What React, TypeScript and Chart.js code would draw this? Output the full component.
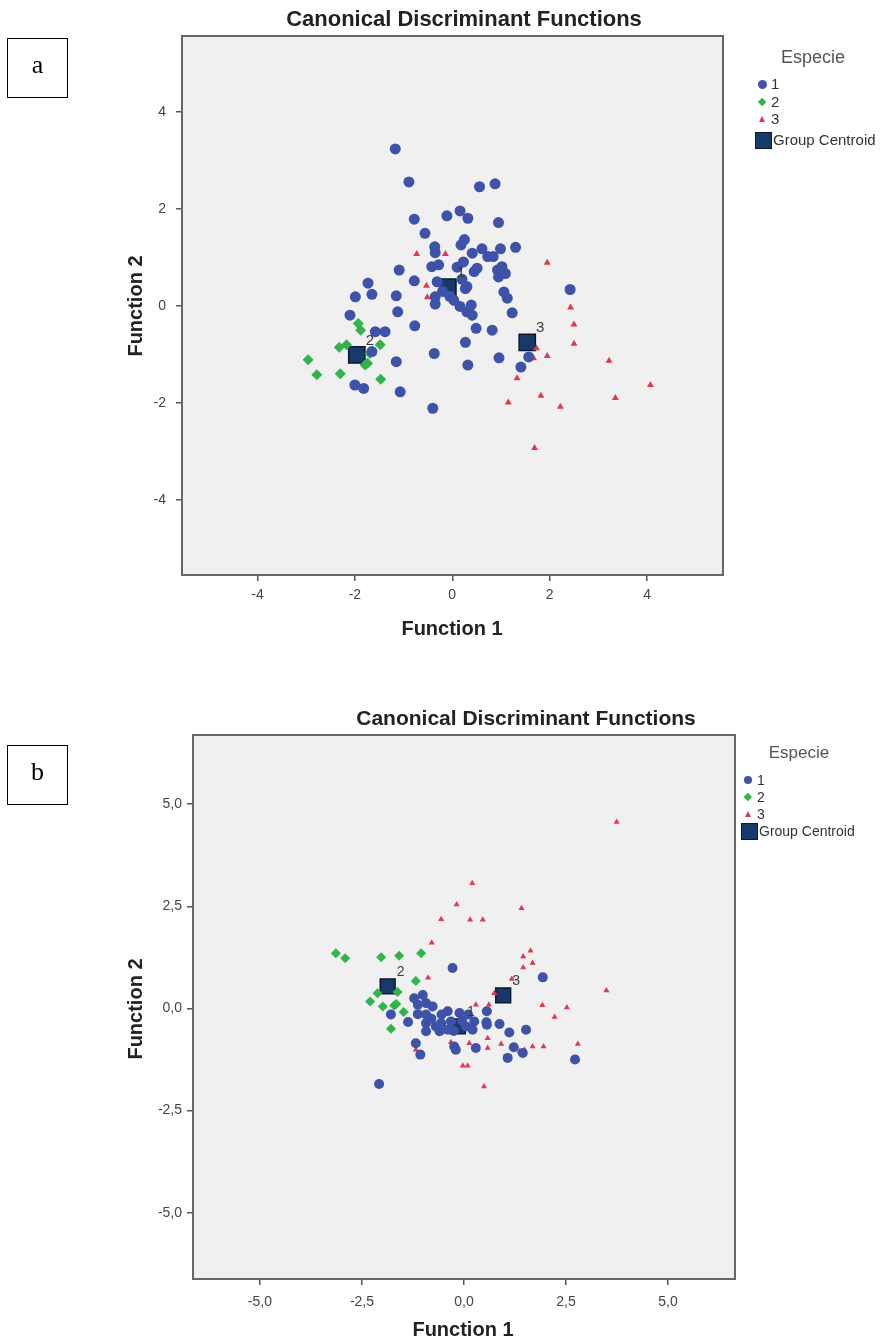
import React, { useEffect, useRef } from 'react';
import { Chart, registerables } from 'chart.js';

Chart.register(...registerables);

// panel a: (Function 1, Function 2) pairs per species
const aSpecie1 = [
  [-1.17, 3.24], [-0.89, 2.56], [0.56, 2.46], [0.88, 2.52], [-0.78, 1.79], [-0.11, 1.86],
  [0.16, 1.96], [0.32, 1.81], [0.95, 1.72], [-0.56, 1.5], [-0.36, 1.22], [-0.35, 1.1],
  [0.25, 1.37], [0.18, 1.26], [0.41, 1.09], [0.61, 1.18], [0.73, 1.02], [0.84, 1.02],
  [0.99, 1.18], [1.3, 1.21], [-0.42, 0.81], [-0.28, 0.85], [-1.09, 0.74], [-0.78, 0.52],
  [0.1, 0.8], [0.23, 0.91], [0.45, 0.71], [0.51, 0.78], [0.93, 0.74], [1.02, 0.81],
  [1.09, 0.67], [0.95, 0.6], [0.27, 0.36], [0.3, 0.4], [1.06, 0.29], [1.13, 0.16],
  [1.23, -0.14], [-0.35, 0.04], [-0.35, 0.19], [-0.31, 0.5], [-0.2, 0.3], [-0.05, 0.2],
  [0.03, 0.12], [0.16, -0.01], [0.3, -0.12], [0.41, -0.19], [0.39, 0.02], [0.2, 0.55],
  [-1.73, 0.47], [-1.99, 0.19], [-1.65, 0.24], [-1.15, 0.21], [-1.12, -0.12], [-2.1, -0.19],
  [-0.77, -0.41], [0.82, -0.5], [0.49, -0.46], [-1.58, -0.53], [-1.38, -0.53], [-1.65, -0.94],
  [-1.15, -1.15], [-2.0, -1.63], [-1.82, -1.7], [-1.07, -1.77], [-0.4, -2.11], [-0.37, -0.98],
  [0.27, -0.75], [0.32, -1.22], [0.96, -1.07], [1.41, -1.26], [1.57, -1.05], [2.42, 0.34],
];
const aSpecie2 = [
  [-1.93, -0.36], [-2.17, -0.8], [-2.32, -0.85], [-2.96, -1.11], [-2.78, -1.42], [-2.3, -1.4],
  [-1.79, -1.22], [-1.74, -1.18], [-1.69, -0.98], [-1.48, -0.8], [-1.47, -1.51], [-1.88, -0.5],
];
const aSpecie3 = [
  [-0.73, 1.07], [-0.14, 1.07], [-0.53, 0.42], [-0.51, 0.18], [1.95, 0.89], [0.49, -0.46],
  [2.43, -0.03], [2.5, -0.38], [2.5, -0.78], [1.73, -0.87], [1.67, -1.08], [1.95, -1.03],
  [1.33, -1.49], [3.22, -1.13], [4.07, -1.63], [3.35, -1.9], [1.15, -1.99], [1.82, -1.85],
  [2.22, -2.08], [1.69, -2.93],
];
const aCentroids = [[-0.09, 0.39], [-1.96, -1.01], [1.54, -0.75]];
const aTicks = [-4, -2, 0, 2, 4];

// panel b
const bSpecie1 = [
  [-0.28, 0.99], [1.93, 0.76], [2.72, -1.25], [-2.08, -1.85], [-1.22, 0.25], [-1.01, 0.33],
  [-0.93, 0.13], [-0.77, 0.05], [-1.13, 0.09], [-1.79, -0.15], [-1.37, -0.33], [-1.13, -0.14],
  [-0.93, -0.15], [-0.93, -0.36], [-0.93, -0.56], [-0.69, -0.44], [-0.56, -0.36], [-0.6, -0.56],
  [-0.4, -0.07], [-0.11, -0.11], [-0.32, -0.32], [-0.4, -0.52], [0.05, -0.44], [0.25, -0.32],
  [0.21, -0.52], [0.56, -0.07], [0.56, -0.4], [0.87, -0.38], [1.11, -0.59], [1.52, -0.52],
  [-1.18, -0.85], [-1.07, -1.13], [-0.24, -0.93], [-0.2, -1.01], [0.29, -0.97], [1.07, -1.21],
  [1.22, -0.95], [1.44, -1.09], [-0.05, -0.3], [-0.25, -0.55], [0.1, -0.15], [-0.55, -0.15],
  [-0.8, -0.25], [0.55, -0.34],
];
const bSpecie2 = [
  [-3.14, 1.35], [-2.91, 1.23], [-2.03, 1.25], [-1.59, 1.29], [-1.05, 1.35], [-1.18, 0.67],
  [-2.3, 0.17], [-1.99, 0.05], [-1.71, 0.07], [-1.63, 0.4], [-1.48, -0.09], [-1.79, -0.5],
  [-2.12, 0.37], [-1.66, 0.11],
];
const bSpecie3 = [
  [3.74, 4.56], [0.2, 3.06], [-0.18, 2.54], [1.41, 2.45], [-0.56, 2.18], [0.15, 2.17],
  [0.46, 2.17], [-0.79, 1.61], [1.63, 1.41], [1.45, 1.27], [1.68, 1.11], [1.45, 1.0],
  [-0.88, 0.75], [1.17, 0.72], [0.74, 0.37], [0.29, 0.09], [0.61, 0.09], [3.49, 0.44],
  [1.92, 0.08], [2.52, 0.02], [2.22, -0.21], [0.17, -0.44], [0.58, -0.73], [0.58, -0.97],
  [0.13, -0.85], [-0.32, -0.83], [0.91, -0.87], [1.68, -0.93], [1.95, -0.93], [2.79, -0.87],
  [1.22, -0.99], [1.36, -1.05], [1.48, -1.01], [-0.03, -1.4], [0.09, -1.4], [0.49, -1.91],
  [-1.18, -1.01],
];
const bCentroids = [[-0.15, -0.44], [-1.87, 0.54], [0.96, 0.32]];
const bTicks = [-5, -2.5, 0, 2.5, 5];

const groupLabels = ['1', '2', '3'];

const BLUE = '#3d52a8';
const GREEN = '#2fb54a';
const RED = '#e2374f';
const NAVY = '#173a6b';
const FONT = 'Arial, "Liberation Sans", sans-serif';

// fixed room for the tick labels, so the plot frame lands where it should
const Y_AXIS_W = 50;
const X_AXIS_H = 40;

const toXY = (pts: number[][]) => pts.map(([x, y]) => ({ x, y }));

const framePlugin = {
  id: 'spssFrame',
  beforeDraw(chart: any) {
    const { ctx, chartArea: a } = chart;
    ctx.save();
    ctx.fillStyle = '#f0f0f0';
    ctx.fillRect(a.left, a.top, a.right - a.left, a.bottom - a.top);
    ctx.restore();
  },
  afterDatasetsDraw(chart: any) {
    const { ctx } = chart;
    const o = chart.options.plugins.spssFrame || {};
    const meta = chart.getDatasetMeta(3);
    ctx.save();
    ctx.fillStyle = '#3a3a3a';
    ctx.font = `${o.labelSize || 14}px ${FONT}`;
    ctx.textAlign = 'center';
    ctx.textBaseline = 'middle';
    meta.data.forEach((el: any, i: number) => {
      ctx.fillText(groupLabels[i], el.x + 13, el.y - 14);
    });
    ctx.restore();
  },
  afterDraw(chart: any) {
    const { ctx, chartArea: a } = chart;
    ctx.save();
    ctx.strokeStyle = '#666';
    ctx.lineWidth = 2;
    ctx.strokeRect(a.left, a.top, a.right - a.left, a.bottom - a.top);
    ctx.restore();
  },
};

interface PanelProps {
  top: number;
  height: number;
  area: { left: number; top: number; right: number; bottom: number };
  range: number[];
  ticks: number[];
  fmt: (v: number) => string;
  s1: number[][];
  s2: number[][];
  s3: number[][];
  cent: number[][];
  r: { c: number; d: number; t: number; s: number };
  labelSize: number;
  padX: number;
  padY: number;
}

const ScatterPanel = (p: PanelProps) => {
  const ref = useRef<HTMLCanvasElement>(null);
  const inst = useRef<Chart | null>(null);

  useEffect(() => {
    if (!ref.current) return;
    const ctx = ref.current.getContext('2d');
    if (!ctx) return;
    if (inst.current) {
      inst.current.destroy();
      inst.current = null;
    }
    const axis = (isX: boolean) => ({
      type: 'linear' as const,
      position: isX ? ('bottom' as const) : ('left' as const),
      min: isX ? p.range[0] : p.range[2],
      max: isX ? p.range[1] : p.range[3],
      bounds: 'data' as const,
      afterBuildTicks: (s: any) => {
        s.ticks = p.ticks.map((v) => ({ value: v }));
      },
      afterFit: (s: any) => {
        if (isX) s.height = X_AXIS_H;
        else s.width = Y_AXIS_W;
      },
      border: { display: false },
      grid: {
        display: true,
        drawOnChartArea: false,
        drawTicks: true,
        tickLength: 6,
        color: '#555',
        lineWidth: 1.5,
      },
      ticks: {
        autoSkip: false,
        maxRotation: 0,
        padding: isX ? p.padX : p.padY,
        color: '#444',
        font: { family: FONT, size: 14 },
        callback: (v: any) => p.fmt(Number(v)),
      },
    });
    inst.current = new Chart(ctx, {
      type: 'scatter',
      data: {
        datasets: [
          { data: toXY(p.s1), pointStyle: 'circle', pointRadius: p.r.c, backgroundColor: BLUE, borderColor: BLUE, borderWidth: 0 },
          { data: toXY(p.s2), pointStyle: 'rectRot', pointRadius: p.r.d, backgroundColor: GREEN, borderColor: GREEN, borderWidth: 0 },
          { data: toXY(p.s3), pointStyle: 'triangle', pointRadius: p.r.t, backgroundColor: RED, borderColor: RED, borderWidth: 0 },
          { data: toXY(p.cent), pointStyle: 'rect', pointRadius: p.r.s, backgroundColor: NAVY, borderColor: '#0b1a30', borderWidth: 1.5 },
        ],
      },
      options: {
        responsive: false,
        animation: false,
        events: [],
        layout: {
          padding: {
            left: p.area.left - Y_AXIS_W,
            top: p.area.top,
            right: 883 - p.area.right,
            bottom: p.height - p.area.bottom - X_AXIS_H,
          },
        },
        scales: { x: axis(true), y: axis(false) },
        plugins: {
          legend: { display: false },
          tooltip: { enabled: false },
          title: { display: false },
          // @ts-ignore
          spssFrame: { labelSize: p.labelSize },
        },
      },
      plugins: [framePlugin],
    });
    return () => {
      if (inst.current) {
        inst.current.destroy();
        inst.current = null;
      }
    };
  }, []);

  return (
    <canvas
      ref={ref}
      width={883}
      height={p.height}
      style={{ position: 'absolute', left: 0, top: p.top, width: 883, height: p.height }}
    />
  );
};

const abs = (style: React.CSSProperties): React.CSSProperties => ({ position: 'absolute', whiteSpace: 'nowrap', ...style });

const Legend = ({ x, y, size, headSize, m }: { x: number; y: number[]; size: number; headSize: number; m: number }) => {
  const mx = x - 51;
  const tx = mx + 9;
  const marker = (i: number) => {
    if (i === 0) return <div style={abs({ left: mx - m / 2, top: y[1] - m / 2, width: m, height: m, borderRadius: '50%', background: BLUE })} />;
    if (i === 1) return <div style={abs({ left: mx - m * 0.35, top: y[2] - m * 0.35, width: m * 0.7, height: m * 0.7, background: GREEN, transform: 'rotate(45deg)' })} />;
    if (i === 2)
      return (
        <div
          style={abs({
            left: mx - 3.5,
            top: y[3] - 3,
            width: 0,
            height: 0,
            borderLeft: '3.5px solid transparent',
            borderRight: '3.5px solid transparent',
            borderBottom: `6px solid ${RED}`,
          })}
        />
      );
    return <div style={abs({ left: mx - 7, top: y[4] - 8, width: 15, height: 15, background: NAVY, border: '1px solid #0b1a30' })} />;
  };
  return (
    <>
      <div style={abs({ left: x - 60, width: 120, top: y[0] - 12, lineHeight: '24px', textAlign: 'center', fontFamily: FONT, fontSize: headSize, color: '#555' })}>Especie</div>
      {[0, 1, 2, 3].map((i) => (
        <React.Fragment key={i}>
          {marker(i)}
          <div style={abs({ left: i === 3 ? tx + 2 : tx, top: y[i + 1] - 10, lineHeight: '20px', fontFamily: FONT, fontSize: size, color: '#333' })}>
            {i === 3 ? 'Group Centroid' : groupLabels[i]}
          </div>
        </React.Fragment>
      ))}
    </>
  );
};

const Decor = ({ letter, boxTop, titleX, titleY, titleSize, f1x, f1y, f2y }: any) => (
  <>
    <div
      style={abs({
        left: 7,
        top: boxTop,
        width: 59,
        height: 58,
        border: '1.5px solid #000',
        fontFamily: '"Liberation Serif", "Times New Roman", serif',
        fontSize: 26,
        lineHeight: '52px',
        textAlign: 'center',
        color: '#000',
      })}
    >
      {letter}
    </div>
    <div style={abs({ left: titleX - 250, width: 500, top: titleY - 14, lineHeight: '28px', textAlign: 'center', fontFamily: FONT, fontWeight: 'bold', fontSize: titleSize, color: '#222' })}>
      Canonical Discriminant Functions
    </div>
    <div style={abs({ left: f1x - 100, width: 200, top: f1y - 13, lineHeight: '26px', textAlign: 'center', fontFamily: FONT, fontWeight: 'bold', fontSize: 20, color: '#222' })}>
      Function 1
    </div>
    <div
      style={abs({
        left: 135 - 100,
        width: 200,
        top: f2y - 13,
        lineHeight: '26px',
        textAlign: 'center',
        fontFamily: FONT,
        fontWeight: 'bold',
        fontSize: 20,
        color: '#222',
        transform: 'rotate(-90deg)',
      })}
    >
      Function 2
    </div>
  </>
);

export default function App() {
  useEffect(() => {
    document.body.style.margin = '0';
    document.body.style.background = '#fff';
  }, []);

  return (
    <div style={{ position: 'relative', width: 883, height: 1343, background: '#fff', overflow: 'hidden' }}>
      <ScatterPanel
        top={0}
        height={650}
        area={{ left: 182, top: 36, right: 723, bottom: 575 }}
        range={[-5.55, 5.56, -5.55, 5.57]}
        ticks={aTicks}
        fmt={(v) => String(v)}
        s1={aSpecie1}
        s2={aSpecie2}
        s3={aSpecie3}
        cent={aCentroids}
        r={{ c: 5.5, d: 5.5, t: 4, s: 11.5 }}
        labelSize={15}
        padX={6}
        padY={10}
      />
      <Decor letter="a" boxTop={38} titleX={464} titleY={19} titleSize={22} f1x={452} f1y={628} f2y={306} />
      <Legend x={813} y={[57, 84, 102, 119, 140]} size={15} headSize={18} m={9} />

      <ScatterPanel
        top={660}
        height={683}
        area={{ left: 193, top: 75, right: 735, bottom: 619 }}
        range={[-6.64, 6.64, -6.62, 6.69]}
        ticks={bTicks}
        fmt={(v) => v.toFixed(1).replace('.', ',')}
        s1={bSpecie1}
        s2={bSpecie2}
        s3={bSpecie3}
        cent={bCentroids}
        r={{ c: 5, d: 5, t: 3.5, s: 10.5 }}
        labelSize={14}
        padX={9}
        padY={5}
      />
      <Decor letter="b" boxTop={745} titleX={526} titleY={718} titleSize={21} f1x={463} f1y={1329} f2y={1009} />
      <Legend x={799} y={[753, 780, 797, 814, 831]} size={14} headSize={17} m={8} />
    </div>
  );
}
